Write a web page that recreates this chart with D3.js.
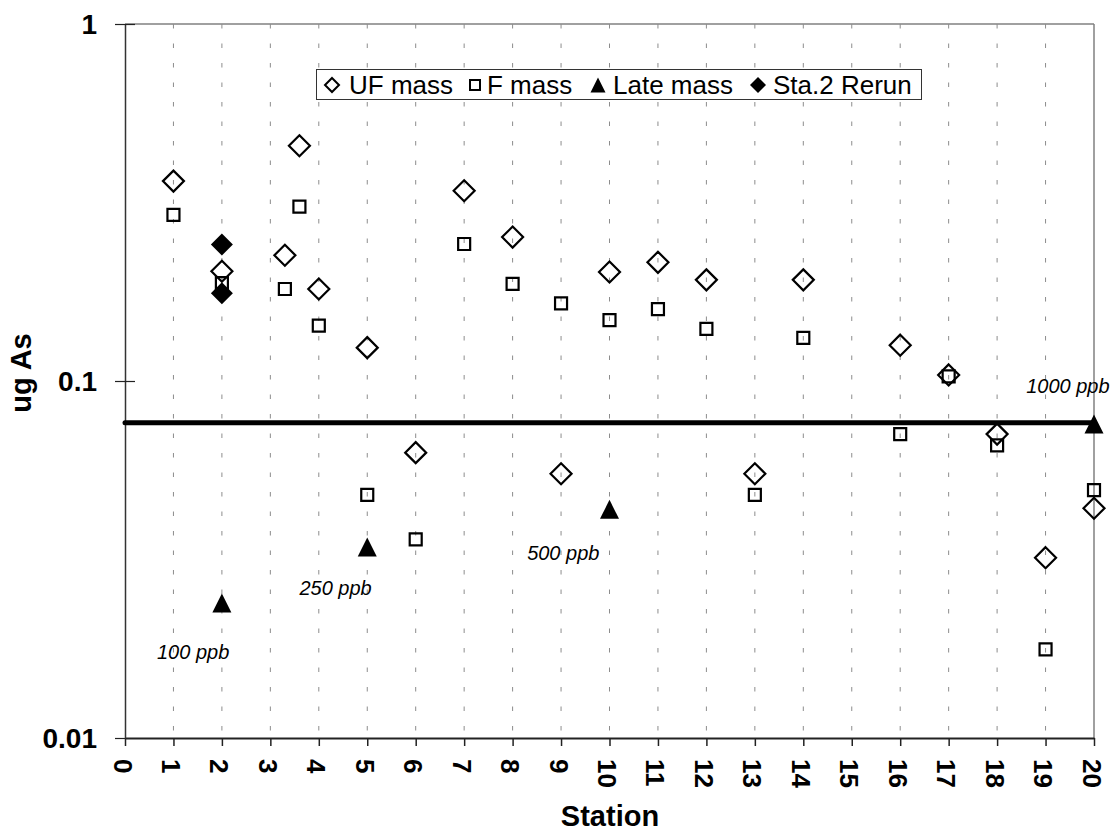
<!DOCTYPE html>
<html>
<head>
<meta charset="utf-8">
<script src="https://cdn.jsdelivr.net/npm/d3@7/dist/d3.min.js"></script>
<style>
  html, body { margin: 0; padding: 0; background: #fff; }
  svg { display: block; }
  text { font-family: "Liberation Sans", Arial, sans-serif; }
</style>
</head>
<body>
<svg id="chart" width="1119" height="833"></svg>
<script>
// ---------- data ----------
const stationTicks = [0,1,2,3,4,5,6,7,8,9,10,11,12,13,14,15,16,17,18,19,20];
const yTicks = [0.01, 0.1, 1];
const yTickLabels = ["0.01", "0.1", "1"];

const ufStations = [1, 2, 3.3, 3.6, 4, 5, 6, 7, 8, 9, 10, 11, 12, 13, 14, 16, 17, 18, 19, 20];
const ufMass     = [0.363, 0.203, 0.225, 0.456, 0.181, 0.124, 0.063, 0.341, 0.253, 0.055, 0.202, 0.215, 0.192, 0.055, 0.192, 0.126, 0.104, 0.071, 0.032, 0.044];

const fStations  = [1, 2, 3.3, 3.6, 4, 5, 6, 7, 8, 9, 10, 11, 12, 13, 14, 16, 17, 18, 19, 20];
const fMass      = [0.292, 0.188, 0.181, 0.308, 0.143, 0.048, 0.036, 0.242, 0.187, 0.165, 0.148, 0.159, 0.140, 0.048, 0.132, 0.071, 0.103, 0.066, 0.0177, 0.0495];

const lateStations = [2, 5, 10, 20];
const lateMass     = [0.0239, 0.0343, 0.0437, 0.0758];

const rerunStations = [2, 2];
const rerunMass     = [0.241, 0.176];

const limitValue = 0.0764;

const annotations = ["100 ppb", "250 ppb", "500 ppb", "1000 ppb"];
const annotationX = [0.66, 3.6, 8.3, 18.6];
const annotationY = [0.01665, 0.02515, 0.0315, 0.0926];

const legendLabels = ["UF mass", "F mass", "Late mass", "Sta.2 Rerun"];

// ---------- layout ----------
const svg = d3.select("#chart");
const mLeft = 125, mRight = 1094, mTop = 24, mBottom = 738;

const x = d3.scaleLinear().domain([0, 20]).range([mLeft, mRight]);
const y = d3.scaleLog().domain([0.01, 1]).range([mBottom, mTop]);

// custom symbols
const diamondType = {
  draw(ctx, size) { const r = Math.sqrt(size) / 2;
    ctx.moveTo(0, -r); ctx.lineTo(r, 0); ctx.lineTo(0, r); ctx.lineTo(-r, 0); ctx.closePath(); }
};
const squareType = {
  draw(ctx, size) { const r = Math.sqrt(size) / 2;
    ctx.moveTo(-r, -r); ctx.lineTo(r, -r); ctx.lineTo(r, r); ctx.lineTo(-r, r); ctx.closePath(); }
};
const triangleType = {
  draw(ctx, size) { const r = Math.sqrt(size) / 2;
    ctx.moveTo(0, -r); ctx.lineTo(r, r); ctx.lineTo(-r, r); ctx.closePath(); }
};

// plot frame (top and right borders)
svg.append("line").attr("x1", mLeft).attr("x2", mRight).attr("y1", mTop).attr("y2", mTop)
  .attr("stroke", "#808080").attr("stroke-width", 1.5);
svg.append("line").attr("x1", mRight).attr("x2", mRight).attr("y1", mTop).attr("y2", mBottom)
  .attr("stroke", "#808080").attr("stroke-width", 1.5);

// vertical dashed gridlines
svg.append("g").selectAll("line")
  .data(stationTicks.filter(d => d > 0 && d < 20))
  .join("line")
  .attr("x1", d => x(d)).attr("x2", d => x(d))
  .attr("y1", mTop).attr("y2", mBottom)
  .attr("stroke", "#8c8c8c").attr("stroke-width", 1)
  .attr("stroke-dasharray", "4.5,15");

// x axis
const xAxis = svg.append("g")
  .attr("transform", `translate(0,${mBottom})`)
  .call(d3.axisBottom(x).tickValues(stationTicks).tickSize(8).tickSizeOuter(0).tickFormat(d3.format("d")));
xAxis.select(".domain").attr("stroke", "#222").attr("stroke-width", 2);
xAxis.selectAll(".tick line").attr("stroke", "#222").attr("stroke-width", 1.5);
xAxis.selectAll(".tick text")
  .attr("transform", "rotate(90)")
  .attr("text-anchor", "start")
  .attr("x", 21).attr("y", 12).attr("dy", 0)
  .attr("fill", "#000")
  .style("font-size", "26px").style("font-weight", "bold");

// y axis
const yAxis = svg.append("g")
  .attr("transform", `translate(${mLeft},0)`)
  .call(d3.axisLeft(y).tickValues(yTicks).tickSize(10).tickSizeOuter(0)
    .tickFormat((d, i) => yTickLabels[i]));
yAxis.select(".domain").attr("stroke", "#333").attr("stroke-width", 1.5);
yAxis.selectAll(".tick line").attr("stroke", "#222").attr("stroke-width", 1.2)
  .attr("x1", d => d === 0.01 ? 0 : 10);
yAxis.selectAll(".tick text")
  .attr("x", -28).attr("dy", "0.35em")
  .attr("fill", "#000")
  .style("font-size", "28px").style("font-weight", "bold");

// axis titles
svg.append("text").attr("transform", "translate(31,373) rotate(-90)")
  .attr("text-anchor", "middle").style("font-size", "29px").style("font-weight", "bold")
  .text("ug As");
svg.append("text").attr("x", 610).attr("y", 826)
  .attr("text-anchor", "middle").style("font-size", "29px").style("font-weight", "bold")
  .text("Station");

// threshold line
svg.append("line")
  .attr("x1", x(0)).attr("x2", x(20))
  .attr("y1", y(limitValue)).attr("y2", y(limitValue))
  .attr("stroke", "#000").attr("stroke-width", 5).attr("stroke-linecap", "round");

// series
const g = svg.append("g");
function drawSeries(xs, vs, type, size, fill, sw) {
  g.append("g").selectAll("path")
    .data(vs.map((v, i) => [xs[i], v]))
    .join("path")
    .attr("transform", d => `translate(${x(d[0])},${y(d[1])})`)
    .attr("d", d3.symbol().type(type).size(size))
    .attr("fill", fill)
    .attr("stroke", fill === "none" ? "#000" : "none")
    .attr("stroke-width", sw);
}
drawSeries(ufStations, ufMass, diamondType, 21 * 21, "none", 2.2);
drawSeries(fStations, fMass, squareType, 12 * 12, "none", 2.2);
drawSeries(lateStations, lateMass, triangleType, 19 * 19, "#000", 0);
drawSeries(rerunStations, rerunMass, diamondType, 22 * 22, "#000", 0);

// annotations
svg.append("g").selectAll("text")
  .data(annotations)
  .join("text")
  .attr("x", (d, i) => x(annotationX[i]))
  .attr("y", (d, i) => y(annotationY[i]))
  .style("font-size", "20px").style("font-style", "italic")
  .text(d => d);

// legend
const lg = svg.append("g");
lg.append("rect").attr("x", 316.5).attr("y", 69.5).attr("width", 605).attr("height", 30)
  .attr("fill", "#fff").attr("stroke", "#333").attr("stroke-width", 1);
const legendMarkerX = [332, 475, 598, 758];
const legendTextX = [349, 487, 613, 773];
const legendTypes = [diamondType, squareType, triangleType, diamondType];
const legendSizes = [14 * 14, 10 * 10, 15 * 15, 16 * 16];
const legendFills = ["none", "none", "#000", "#000"];
legendLabels.forEach((lab, i) => {
  lg.append("path")
    .attr("transform", `translate(${legendMarkerX[i]},85)`)
    .attr("d", d3.symbol().type(legendTypes[i]).size(legendSizes[i]))
    .attr("fill", legendFills[i])
    .attr("stroke", legendFills[i] === "none" ? "#000" : "none")
    .attr("stroke-width", 2);
  lg.append("text").attr("x", legendTextX[i]).attr("y", 94.3)
    .style("font-size", "26px").text(lab);
});
</script>
</body>
</html>
